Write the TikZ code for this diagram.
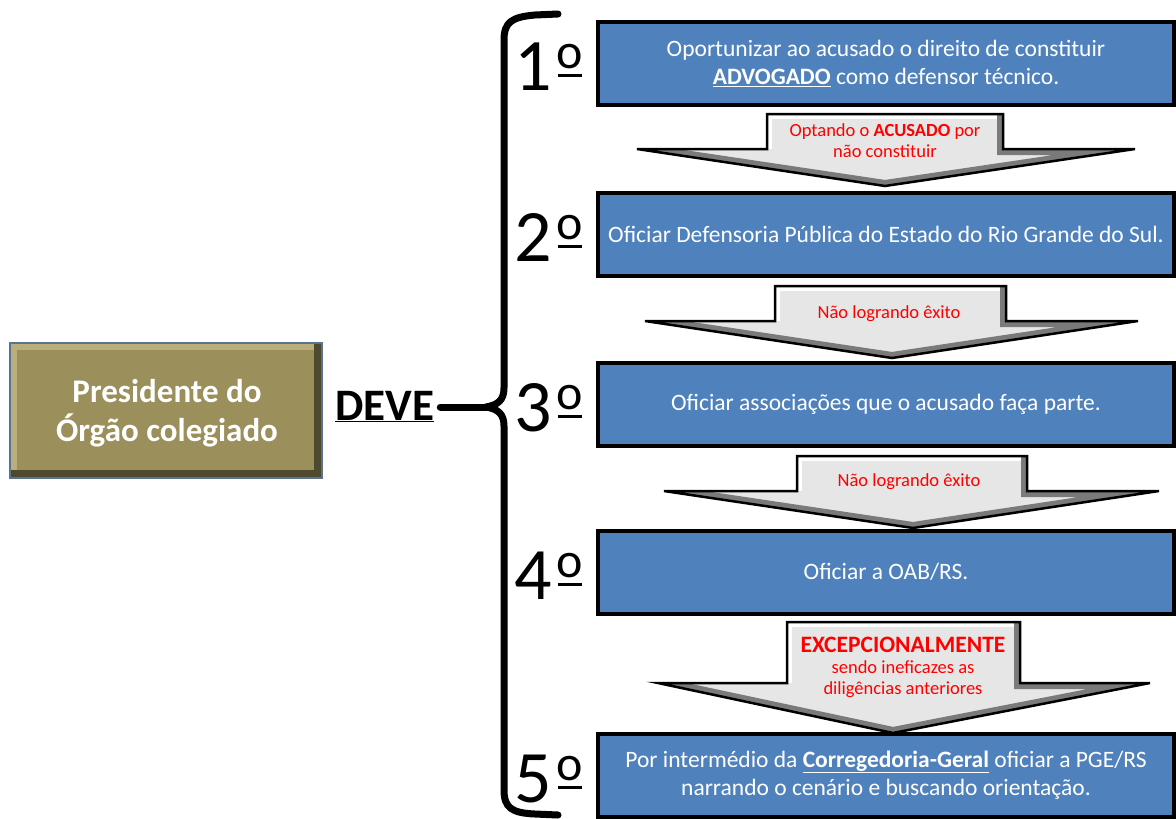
\documentclass[tikz,border=0pt]{standalone}
\usepackage{fontspec}
\setmainfont{Carlito}
\usetikzlibrary{calc}
\definecolor{stepblue}{HTML}{4F81BD}
\definecolor{olive}{HTML}{9B8F5B}
\definecolor{olivelight}{HTML}{B9AE7C}
\definecolor{olivedark}{HTML}{4F4A2E}
\definecolor{arrowfill}{HTML}{E6E6E6}
\definecolor{arrowdark}{HTML}{7A7A7A}
\definecolor{framegray}{HTML}{5A7390}

% masculine ordinal sign with its underline
\newcommand\ordsign{\kern5pt\makebox[0pt][l]{\kern1pt\rule[13pt]{24pt}{3.5pt}}\raisebox{21.5pt}{\fontsize{50}{50}\selectfont o}}

\tikzset{
  stepbox/.style={draw=black, line width=4pt, fill=stepblue, text=white,
    minimum width=576pt, minimum height=83pt, align=center, inner sep=0pt,
    font=\fontsize{23.5}{28.5}\selectfont},
  ordinal/.style={font=\fontsize{74}{74}\selectfont, inner sep=0pt, anchor=base west},
  arrowtext/.style={text=red, align=center, inner sep=0pt,
    font=\fontsize{18.5}{21}\selectfont},
  bracepen/.style={line width=7pt, line cap=round, line join=round},
}

% block arrow: #1 body left x, #2 body right x, #3 top y, #4 shoulder y,
% #5 left wing x, #6 right wing x, #7 tip x, #8 tip y
\newcommand\blockarrow[8]{%
  \begin{scope}
    \clip (#1,#3) -- (#2,#3) -- (#2,#4) -- (#6,#4) -- (#7,#8) -- (#5,#4) -- (#1,#4) -- cycle;
    \fill[arrowfill] (#5,#3) rectangle (#6,#8);
    \draw[white, line width=10pt] (#1,#4) -- (#1,#3) -- (#2,#3);
    \draw[arrowdark, line width=12pt] (#2,#3) -- (#2,#4) -- (#6,#4) -- (#7,#8) -- (#5,#4);
  \end{scope}
  \draw[black, line width=2.5pt, line join=miter]
    (#1,#3) -- (#2,#3) -- (#2,#4) -- (#6,#4) -- (#7,#8) -- (#5,#4) -- (#1,#4) -- cycle;
}

\begin{document}
\begin{tikzpicture}[x=1pt, y=-1pt]
  \useasboundingbox (0,0) rectangle (1176,819);

  % head of the board
  \begin{scope}
    \clip (10,343) rectangle (322,478);
    \fill[olive] (10,343) rectangle (322,478);
    \draw[olivelight, line width=14pt] (10,478) -- (10,343) -- (322,343);
    \draw[olivedark, line width=16pt] (322,343) -- (322,478) -- (10,478);
  \end{scope}
  \draw[framegray, line width=1.2pt] (10,343) rectangle (322,478);
  \node[text=white, align=center, font=\bfseries\fontsize{33}{39.5}\selectfont]
    (pres) at (167,413) {Presidente do\\Órgão colegiado};

  \node[font=\bfseries\fontsize{45}{45}\selectfont, inner sep=0pt, anchor=base west]
    (deve) at (335,420) {\underline{DEVE}};

  % brace
  \coordinate (cusp) at (486,407);
  \draw[bracepen] (558,14) -- (535,15) .. controls (512,17) and (504,22) .. (504,40)
    -- (504,388) .. controls (504,400) and (498,405) .. (cusp)
    .. controls (498,409) and (504,414) .. (504,426)
    -- (504,790) .. controls (504,808) and (512,813) .. (535,814) -- (558,815);
  \coordinate (devetail) at ($(deve.east |- cusp)+(6pt,0)$);
  \draw[bracepen] (devetail) -- (cusp);

  % ordinal numbers
  \node[ordinal] (n1) at (514,90) {1\ordsign};
  \node[ordinal] (n2) at (514,261) {2\ordsign};
  \node[ordinal] (n3) at (514,431) {3\ordsign};
  \node[ordinal] (n4) at (514,599) {4\ordsign};
  \node[ordinal] (n5) at (514,802) {5\ordsign};

  % steps
  \node[stepbox] (s1) at (886,63.5)
    {Oportunizar ao acusado o direito de constituir\\\textbf{\underline{ADVOGADO}} como defensor técnico.};
  \node[stepbox] (s2) at (886,234.5)
    {Oficiar Defensoria Pública do Estado do Rio Grande do Sul.};
  \node[stepbox] (s3) at (886,404.5)
    {Oficiar associações que o acusado faça parte.};
  \node[stepbox] (s4) at (886,572)
    {Oficiar a OAB/RS.};
  \node[stepbox] (s5) at (886,775)
    {Por intermédio da \textbf{\underline{Corregedoria-Geral}} oficiar a PGE/RS\\narrando o cenário e buscando orientação.};

  % transitions
  \blockarrow{767}{1003}{114}{149}{637}{1135}{885}{186}
  \node[arrowtext] (a1) at (885,141) {Optando o \textbf{ACUSADO} por\\não constituir};

  \blockarrow{775}{1006}{286}{321}{645}{1138}{892}{358}
  \node[arrowtext] (a2) at (889,314) {Não logrando êxito};

  \blockarrow{797}{1027}{456}{491}{664}{1159}{913}{528}
  \node[arrowtext] (a3) at (909,482) {Não logrando êxito};

  \blockarrow{787}{1020}{622}{683}{658}{1150}{893}{733}
  \node[arrowtext] (a4) at (903,667)
    {{\bfseries\fontsize{23.5}{24}\selectfont EXCEPCIONALMENTE}\\sendo ineficazes as\\diligências anteriores};
\end{tikzpicture}
\end{document}
